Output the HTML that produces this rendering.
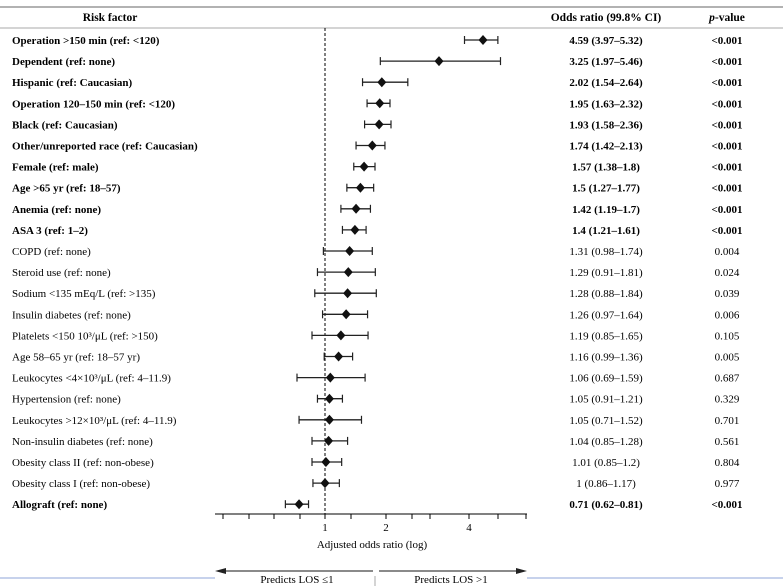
<!DOCTYPE html>
<html><head><meta charset="utf-8"><style>
body{margin:0;background:#fff;}
svg{display:block;font-family:"Liberation Serif",serif;}
</style></head><body>
<svg id="c" width="783" height="586" xmlns="http://www.w3.org/2000/svg">
<line x1="0" y1="7" x2="783" y2="7" stroke="#999" stroke-width="1.5"/>
<line x1="0" y1="28" x2="783" y2="28" stroke="#aaa" stroke-width="1"/>
<text x="110" y="21" font-size="11.5" font-weight="bold" text-anchor="middle">Risk factor</text>
<text x="606" y="21" font-size="11.5" font-weight="bold" text-anchor="middle">Odds ratio (99.8% CI)</text>
<text x="727" y="21" font-size="11.5" font-weight="bold" text-anchor="middle"><tspan font-style="italic">p</tspan>-value</text>
<line x1="325" y1="28" x2="325" y2="514" stroke="#000" stroke-dasharray="3,2"/>
<g id="rows"></g>
<line x1="215" y1="514" x2="527" y2="514" stroke="#000"/>
<g id="ticks"></g>
<text x="325" y="531" font-size="11" text-anchor="middle">1</text>
<text x="386" y="531" font-size="11" text-anchor="middle">2</text>
<text x="469" y="531" font-size="11" text-anchor="middle">4</text>
<text x="372" y="548" font-size="11" text-anchor="middle">Adjusted odds ratio (log)</text>
<line x1="222" y1="571" x2="373" y2="571" stroke="#444" stroke-width="1.2"/>
<polygon points="215,571 226,568 226,574" fill="#222"/>
<line x1="379" y1="571" x2="520" y2="571" stroke="#444" stroke-width="1.2"/>
<polygon points="527,571 516,568 516,574" fill="#222"/>
<line x1="0" y1="578" x2="215" y2="578" stroke="#8fa6d8"/>
<line x1="527" y1="578" x2="783" y2="578" stroke="#8fa6d8"/>
<line x1="375" y1="576" x2="375" y2="586" stroke="#aaa"/>
<text x="297" y="583" font-size="11" text-anchor="middle">Predicts LOS ≤1</text>
<text x="451" y="583" font-size="11" text-anchor="middle">Predicts LOS &gt;1</text>
</svg>
<script>
const labels=["Operation >150 min (ref: <120)","Dependent (ref: none)","Hispanic (ref: Caucasian)","Operation 120–150 min (ref: <120)","Black (ref: Caucasian)","Other/unreported race (ref: Caucasian)","Female (ref: male)","Age >65 yr (ref: 18–57)","Anemia (ref: none)","ASA 3 (ref: 1–2)","COPD (ref: none)","Steroid use (ref: none)","Sodium <135 mEq/L (ref: >135)","Insulin diabetes (ref: none)","Platelets <150 10³/μL (ref: >150)","Age 58–65 yr (ref: 18–57 yr)","Leukocytes <4×10³/μL (ref: 4–11.9)","Hypertension (ref: none)","Leukocytes >12×10³/μL (ref: 4–11.9)","Non-insulin diabetes (ref: none)","Obesity class II (ref: non-obese)","Obesity class I (ref: non-obese)","Allograft (ref: none)"];
const orValues=[4.59,3.25,2.02,1.95,1.93,1.74,1.57,1.5,1.42,1.4,1.31,1.29,1.28,1.26,1.19,1.16,1.06,1.05,1.05,1.04,1.01,1,0.71];
const ciLow=[3.97,1.97,1.54,1.63,1.58,1.42,1.38,1.27,1.19,1.21,0.98,0.91,0.88,0.97,0.85,0.99,0.69,0.91,0.71,0.85,0.85,0.86,0.62];
const ciHigh=[5.32,5.46,2.64,2.32,2.36,2.13,1.8,1.77,1.7,1.61,1.74,1.81,1.84,1.64,1.65,1.36,1.59,1.21,1.52,1.28,1.2,1.17,0.81];
const ciText=["4.59 (3.97–5.32)","3.25 (1.97–5.46)","2.02 (1.54–2.64)","1.95 (1.63–2.32)","1.93 (1.58–2.36)","1.74 (1.42–2.13)","1.57 (1.38–1.8)","1.5 (1.27–1.77)","1.42 (1.19–1.7)","1.4 (1.21–1.61)","1.31 (0.98–1.74)","1.29 (0.91–1.81)","1.28 (0.88–1.84)","1.26 (0.97–1.64)","1.19 (0.85–1.65)","1.16 (0.99–1.36)","1.06 (0.69–1.59)","1.05 (0.91–1.21)","1.05 (0.71–1.52)","1.04 (0.85–1.28)","1.01 (0.85–1.2)","1 (0.86–1.17)","0.71 (0.62–0.81)"];
const pText=["<0.001","<0.001","<0.001","<0.001","<0.001","<0.001","<0.001","<0.001","<0.001","<0.001","0.004","0.024","0.039","0.006","0.105","0.005","0.687","0.329","0.701","0.561","0.804","0.977","<0.001"];
const bold=[1,1,1,1,1,1,1,1,1,1,0,0,0,0,0,0,0,0,0,0,0,0,1];
const NS="http://www.w3.org/2000/svg";
// piecewise log scale anchored to the reference axis
const aV=[0.5,0.69,0.85,1,1.3,1.8,2.36,3.25,4.59,6];
const aP=[262,297,312,325,349,375,391,439,483,510];
function xs(v){const l=Math.log(v);for(let i=0;i<aV.length-1;i++){const a=Math.log(aV[i]),b=Math.log(aV[i+1]);if(l<=b||i===aV.length-2){return aP[i]+(l-a)/(b-a)*(aP[i+1]-aP[i]);}}}
function ys(i){return 40+i*21.1;}
function mk(t,a,p){const e=document.createElementNS(NS,t);for(const k in a)e.setAttribute(k,a[k]);(p||document.getElementById('rows')).appendChild(e);return e;}
orValues.forEach((v,i)=>{
 const y=ys(i);
 const g=mk('g',{});
 
 
 const fw=bold[i]?'bold':'normal';
 const t=mk('text',{x:12,y:y+4,'font-size':11,'font-weight':fw},g);t.textContent=labels[i];
 
 
 const lo=xs(ciLow[i]),hi=xs(ciHigh[i]),cx=xs(v);
 const l=mk('line',{x1:lo,y1:y,x2:hi,y2:y,stroke:'#222','stroke-width':1.3},g);
 
 
 [lo,hi].forEach(x=>{const c=mk('line',{x1:x,y1:y-4,x2:x,y2:y+4,stroke:'#222','stroke-width':1.2},g);
  
  });
 const d=mk('polygon',{points:`${cx},${y-5} ${cx+4.5},${y} ${cx},${y+5} ${cx-4.5},${y}`,fill:'#111'},g);
 
 
 const o=mk('text',{x:606,y:y+4,'font-size':11,'font-weight':fw,'text-anchor':'middle'},g);o.textContent=ciText[i];
 
 
 const p=mk('text',{x:727,y:y+4,'font-size':11,'font-weight':fw,'text-anchor':'middle'},g);p.textContent=pText[i];
 
 
});
const tickPx=[223,249,274,300,325,351,386,412,430,469,498,526];
const tg=document.getElementById('ticks');
tickPx.forEach(x=>{const t=mk('line',{x1:x,y1:514,x2:x,y2:519,stroke:'#000'},tg);
 
 });
</script>
</body></html>
